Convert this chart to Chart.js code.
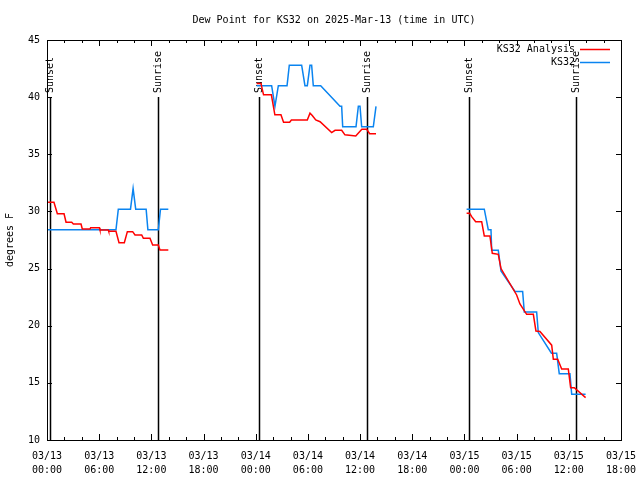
<!DOCTYPE html>
<html lang="en">
<head>
<meta charset="UTF-8">
<title>Dew Point for KS32</title>
<script src="https://cdn.jsdelivr.net/npm/chart.js@4.4.1/dist/chart.umd.min.js"></script>
<style>
  html, body { margin: 0; padding: 0; background: #fff; }
  #wrap { width: 640px; height: 480px; }
</style>
</head>
<body>
<div id="wrap"><canvas id="chart" width="640" height="480"></canvas></div>
<script>
// times are hours after 03/13 00:00 UTC, a null value breaks the line (no data)
const analysisHours = [
  0.12, 0.8, 1.19, 1.96, 2.19, 2.84, 3.03, 3.91, 4.06, 4.94, 5.02, 6.02, 6.09, 7.05, 7.1, 7.93,
  8.28, 8.89, 9.24, 9.85, 10.12, 10.89, 11.08, 11.84, 12.15, 12.8, 12.99, 13.95,
  18,
  24.1, 24.6, 24.9, 25.8, 26.2, 26.9, 27.2, 27.9, 28.1, 29.93, 30.24, 30.5, 30.9, 31.4, 32.73,
  33.12, 33.88, 34.26, 35.5, 36.2, 36.75, 37.1, 37.83,
  42,
  48.25, 48.6, 48.83, 49.29, 49.98, 50.28, 50.93, 51.2, 51.89, 52.2, 54.0, 54.38, 55.15, 55.92,
  56.22, 56.68, 58.03, 58.22, 58.72, 59.18, 59.94, 60.21, 60.63, 61.93
];
const analysisDewF = [
  30.8, 30.8, 29.8, 29.8, 29.05, 29.05, 28.9, 28.9, 28.46, 28.46, 28.58, 28.58, 28.38, 28.38, 28.26, 28.26,
  27.27, 27.27, 28.23, 28.23, 27.94, 27.94, 27.65, 27.65, 27.06, 27.06, 26.63, 26.63,
  null,
  41.2, 41.2, 40.2, 40.2, 38.45, 38.45, 37.8, 37.8, 38.0, 38.0, 38.6, 38.4, 38.0, 37.85, 36.9,
  37.1, 37.1, 36.7, 36.6, 37.2, 37.2, 36.8, 36.8,
  null,
  29.84, 29.84, 29.54, 29.1, 29.1, 27.85, 27.85, 26.34, 26.25, 25.0, 22.69, 21.9, 21.0, 21.0,
  19.54, 19.5, 18.3, 17.06, 17.06, 16.22, 16.22, 14.58, 14.58, 13.71
];

const obsHours = [
  0.12, 7.93, 8.2, 9.6, 9.9, 10.2, 11.4, 11.6, 12.8, 13.05, 13.95,
  18,
  24.11, 25.83, 26.21, 26.6, 27.6, 27.86, 29.28, 29.66, 29.93, 30.24, 30.43, 30.62, 31.47,
  33.69, 33.88, 34.0, 35.53, 35.8, 35.99, 36.18, 37.52, 37.83,
  42,
  48.25, 50.28, 50.74, 51.05, 51.13, 51.89, 52.2, 53.81, 54.69, 54.88, 56.3, 56.49, 58.0, 58.6,
  58.9, 60.13, 60.33, 61.93
];
const obsDewF = [
  28.4, 28.4, 30.2, 30.2, 32.0, 30.2, 30.2, 28.4, 28.4, 30.2, 30.2,
  null,
  41.0, 41.0, 39.2, 41.0, 41.0, 42.8, 42.8, 41.0, 41.0, 42.8, 42.8, 41.0, 41.0,
  39.2, 39.2, 37.4, 37.4, 39.2, 39.2, 37.4, 37.4, 39.2,
  null,
  30.2, 30.2, 28.4, 28.4, 26.6, 26.6, 24.8, 23.0, 23.0, 21.2, 21.2, 19.4, 17.6, 17.6,
  15.8, 15.8, 14.0, 14.0
];

const sunNames = ['Sunset', 'Sunrise', 'Sunset', 'Sunrise', 'Sunset', 'Sunrise'];
const sunHours = [0.35, 12.76, 24.43, 36.83, 48.52, 60.88];

const dayLabels = ['03/13', '03/14', '03/15'];
const hourLabels = ['00:00', '06:00', '12:00', '18:00'];

const FONT = 'DejaVu Sans Mono';

function toPoints(xs, ys) {
  return xs.map((h, i) => ({ x: h, y: ys[i] }));
}

// sunrise / sunset markers, gnuplot style inward ticks, frame and legend
const decorations = {
  id: 'decorations',
  beforeDatasetsDraw(chart) {
    const ctx = chart.ctx;
    const area = chart.chartArea;
    const xs = chart.scales.x;
    ctx.save();
    ctx.strokeStyle = '#000';
    ctx.fillStyle = '#000';
    ctx.lineWidth = 1.5;
    ctx.font = '10px ' + FONT;
    sunHours.forEach((h, i) => {
      const px = Math.round(xs.getPixelForValue(h)) + 0.5;
      ctx.beginPath();
      ctx.moveTo(px, 97);
      ctx.lineTo(px, area.bottom);
      ctx.stroke();
      ctx.save();
      ctx.translate(px, 93);
      ctx.rotate(-Math.PI / 2);
      ctx.textAlign = 'left';
      ctx.textBaseline = 'middle';
      ctx.fillText(sunNames[i], 0, 0);
      ctx.restore();
    });
    ctx.restore();
  },
  afterDraw(chart) {
    const ctx = chart.ctx;
    const a = chart.chartArea;
    const xs = chart.scales.x;
    const ys = chart.scales.y;
    ctx.save();
    ctx.strokeStyle = '#000';
    ctx.lineWidth = 1;
    ctx.strokeRect(a.left + 0.5, a.top + 0.5, a.right - a.left, a.bottom - a.top);

    ctx.beginPath();
    xs.ticks.forEach(t => {
      const px = Math.round(xs.getPixelForValue(t.value)) + 0.5;
      const len = t.value % 6 === 0 ? 6 : 3;
      ctx.moveTo(px, a.bottom); ctx.lineTo(px, a.bottom - len);
      ctx.moveTo(px, a.top); ctx.lineTo(px, a.top + len);
    });
    ys.ticks.forEach(t => {
      const py = Math.round(ys.getPixelForValue(t.value)) + 0.5;
      ctx.moveTo(a.left, py); ctx.lineTo(a.left + 5, py);
      ctx.moveTo(a.right, py); ctx.lineTo(a.right - 5, py);
    });
    ctx.stroke();

    // title and y axis name
    ctx.fillStyle = '#000';
    ctx.font = '10px ' + FONT;
    ctx.textAlign = 'center';
    ctx.textBaseline = 'middle';
    ctx.fillText('Dew Point for KS32 on 2025-Mar-13 (time in UTC)', (a.left + a.right) / 2, 20);
    ctx.save();
    ctx.translate(10, (a.top + a.bottom) / 2);
    ctx.rotate(-Math.PI / 2);
    ctx.fillText('degrees F', 0, 0);
    ctx.restore();

    // legend
    ctx.textAlign = 'right';
    chart.data.datasets.forEach((ds, i) => {
      const y = 49 + i * 13;
      ctx.fillStyle = '#000';
      ctx.fillText(ds.label, 575, y);
      ctx.strokeStyle = ds.borderColor;
      ctx.lineWidth = 1.5;
      ctx.beginPath();
      ctx.moveTo(580, y + 0.5);
      ctx.lineTo(610, y + 0.5);
      ctx.stroke();
    });
    ctx.restore();
  }
};

new Chart(document.getElementById('chart'), {
  type: 'line',
  data: {
    datasets: [{
      label: 'KS32 Analysis',
      data: toPoints(analysisHours, analysisDewF),
      borderColor: '#ff0000',
      borderWidth: 1.5,
      pointRadius: 0,
      tension: 0,
      spanGaps: false
    }, {
      label: 'KS32',
      data: toPoints(obsHours, obsDewF),
      borderColor: '#0a84f0',
      borderWidth: 1.5,
      pointRadius: 0,
      tension: 0,
      spanGaps: false
    }]
  },
  options: {
    responsive: false,
    animation: false,
    layout: { padding: { top: 40, right: 19, left: 0, bottom: 0 } },
    plugins: {
      legend: { display: false },
      title: { display: false },
      tooltip: { enabled: false }
    },
    scales: {
      x: {
        type: 'linear',
        min: 0,
        max: 66,
        grid: { display: false, drawTicks: false },
        border: { display: false },
        ticks: {
          stepSize: 2,
          autoSkip: false,
          maxRotation: 0,
          padding: 9,
          color: '#000',
          font: { family: FONT, size: 10, lineHeight: 1.4 },
          callback: v => v % 6 === 0 ? [dayLabels[Math.floor(v / 24)], hourLabels[(v % 24) / 6]] : ''
        },
        afterFit: s => { s.height = 40; s.paddingLeft = 0; s.paddingRight = 0; }
      },
      y: {
        min: 10,
        max: 45,
        grid: { display: false, drawTicks: false },
        border: { display: false },
        ticks: {
          stepSize: 5,
          padding: 7,
          color: '#000',
          font: { family: FONT, size: 10 }
        },
        afterFit: s => { s.width = 47; s.paddingTop = 0; s.paddingBottom = 0; }
      }
    }
  },
  plugins: [decorations]
});
</script>
</body>
</html>
